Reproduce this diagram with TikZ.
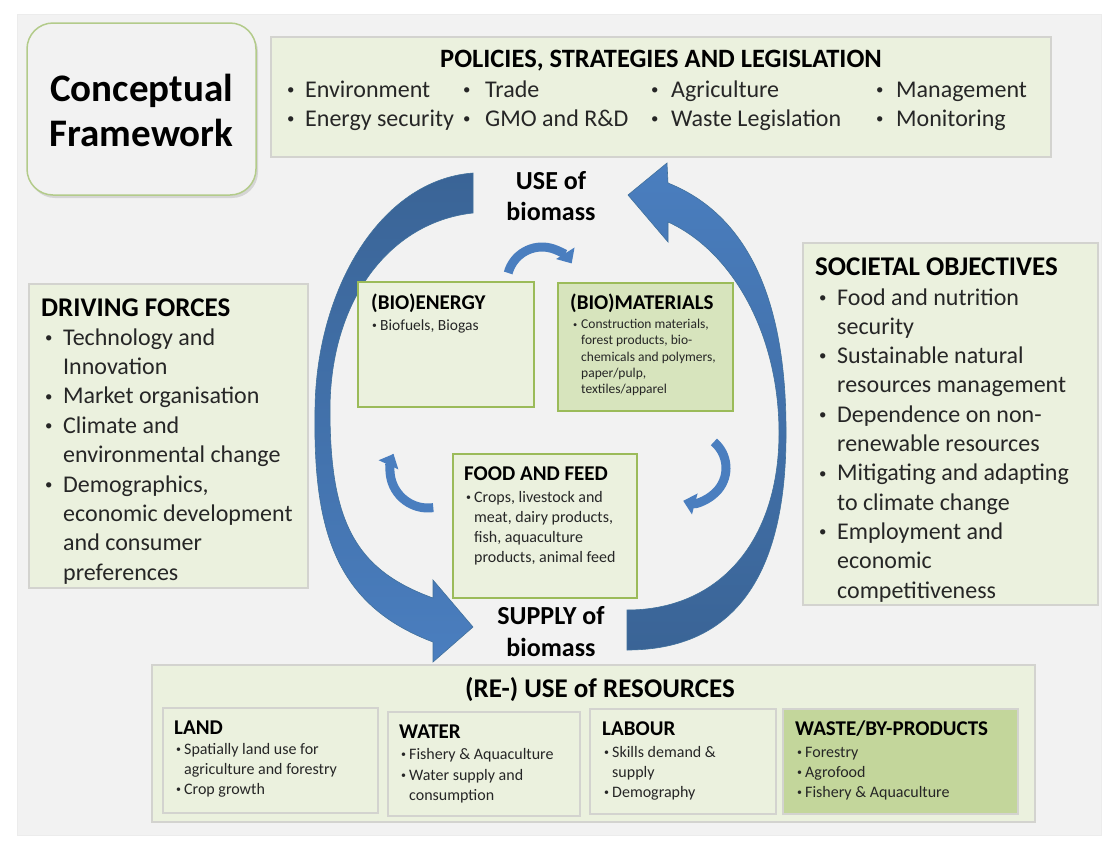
\documentclass[tikz,border=0pt]{standalone}
\usepackage{fontspec}
\usepackage{graphicx}
\setmainfont{Carlito}
\usetikzlibrary{shadows,arrows.meta}
\definecolor{bg}{HTML}{F2F2F2}
\definecolor{boxfill}{HTML}{EBF1DE}
\definecolor{boxdark}{HTML}{D7E4BD}
\definecolor{wastefill}{HTML}{C3D69B}
\definecolor{grnline}{HTML}{9BBB59}
\definecolor{conline}{HTML}{B3CB8A}
\definecolor{grayline}{HTML}{D3D3CF}
\definecolor{bluelight}{HTML}{4A7EBF}
\definecolor{bluedark}{HTML}{3A6496}
\definecolor{blueedge}{HTML}{41719C}
\definecolor{bodytext}{HTML}{262626}
\newcommand{\sbul}{\raisebox{0.11em}{\scalebox{0.62}{\textbullet}}}
\newcommand{\Bl}[5]{\node[lbl] (#1b) at (#2,#4) {\sbul}; \node[lbl] (#1) at (#3,#4) {#5};}
\newcommand{\Cl}[4]{\node[lbl] (#1) at (#2,#3) {#4};}
\newcommand{\setfs}[1]{\fontsize{#1}{#1}\selectfont}
\begin{document}
\begin{tikzpicture}[x=1pt,y=-1pt,
  lbl/.style={anchor=base west, inner sep=0pt, text=bodytext},
  ttl/.style={anchor=base west, inner sep=0pt, text=black, font=\bfseries\setfs{#1}},
  ttl/.default=21,
  ctr/.style={anchor=base, inner sep=0pt, text=black, font=\bfseries\setfs{#1}},
  ctr/.default=26,
  panel/.style={draw=grayline, line width=1.5pt, fill=boxfill, inner sep=0pt},
  greenbox/.style={draw=grnline, line width=2.5pt, fill=boxfill, inner sep=0pt},
  bigarrow/.style={draw=blueedge, line width=0.6pt},
  smallarrow/.style={draw=bluelight, line width=9pt, -{Triangle[width=21pt,length=12pt]}}
]
\useasboundingbox (0,0) rectangle (1104,852);
\fill[white] (0,0) rectangle (1104,852);
\draw[fill=bg, draw=gray!15, line width=1pt] (17,14) rectangle (1101,835);

% ---- big arrows ----
\shade[bigarrow, top color=bluedark, bottom color=bluelight]
  (473,173) .. controls (380,180) and (316,290) .. (315,410)
  .. controls (313,530) and (335,605) .. (433,642)
  -- (433,662) -- (473,627) -- (433,580) -- (433,598)
  .. controls (356,570) and (330,523) .. (330,410)
  .. controls (330,300) and (390,222) .. (473,213) -- cycle;
\shade[bigarrow, top color=bluelight, bottom color=bluedark]
  (627,650) .. controls (735,650) and (787,575) .. (786,430)
  .. controls (786,300) and (748,215) .. (668,183)
  -- (667,163) -- (628,195) -- (668,242) -- (668,222)
  .. controls (730,250) and (778,330) .. (779,430)
  .. controls (780,540) and (720,610) .. (627,610) -- cycle;

% ---- small circular arrows ----
\draw[smallarrow] (542,282) ++(195:35) arc[start angle=195, end angle=328, radius=35];
\draw[smallarrow] (428,470) ++(82:38) arc[start angle=82, end angle=205, radius=38];
\draw[smallarrow] (692,468) ++(-50:34) arc[start angle=-50, end angle=105, radius=34];

% ---- boxes ----
\node[draw=conline, line width=1.5pt, fill=bg, rounded corners=26pt, minimum width=229pt, minimum height=172pt,
      drop shadow={opacity=0.25, shadow xshift=2pt, shadow yshift=-3pt}] (concept) at (141.5,109) {};
\node[panel, minimum width=780pt, minimum height=120pt] (policies) at (661,97) {};
\node[panel, minimum width=279pt, minimum height=304pt] (driving) at (168.5,436) {};
\node[panel, minimum width=295pt, minimum height=362pt] (societal) at (950.5,424) {};
\node[greenbox, minimum width=176pt, minimum height=125pt] (bioenergy) at (446,344.5) {};
\node[greenbox, fill=boxdark, minimum width=175pt, minimum height=128pt] (biomat) at (645.5,347) {};
\node[greenbox, minimum width=184pt, minimum height=144pt] (food) at (545,526) {};
\node[panel, minimum width=883pt, minimum height=157pt] (reuse) at (593.5,743.5) {};
\node[panel, line width=2pt, minimum width=215pt, minimum height=105pt] (land) at (270.5,760.5) {};
\node[panel, line width=2pt, minimum width=192pt, minimum height=104pt] (water) at (484,764) {};
\node[panel, line width=2pt, minimum width=186pt, minimum height=105pt] (labour) at (683,761.5) {};
\node[panel, line width=2pt, fill=wastefill, minimum width=235pt, minimum height=105pt] (waste) at (900.5,761.5) {};

% ---- title ----
\node[ctr=39] (conc1) at (141.5,101) {Conceptual};
\node[ctr=39] (conc2) at (141.5,146) {Framework};

% ---- policies ----
\node[ctr=26.5] (poltitle) at (661,67) {POLICIES, STRATEGIES AND LEGISLATION};
\begin{scope}[every node/.append style={font=\setfs{24}}]
\Bl{p1}{287}{305}{97}{Environment}
\Bl{p5}{287}{305}{126}{Energy security}
\Bl{p2}{463}{485}{97}{Trade}
\Bl{p6}{463}{485}{126}{GMO and R\&D}
\Bl{p3}{651}{671}{97}{Agriculture}
\Bl{p7}{651}{671}{126}{Waste Legislation}
\Bl{p4}{876}{896}{97}{Management}
\Bl{p8}{876}{896}{126}{Monitoring}
\end{scope}

% ---- use / supply ----
\node[ctr=26] (use1) at (551,189) {USE of};
\node[ctr=26] (use2) at (551,220) {biomass};
\node[ctr=26] (sup1) at (551,624) {SUPPLY of};
\node[ctr=26] (sup2) at (551,656) {biomass};

% ---- driving forces ----
\node[ttl=27] (dftitle) at (41,316) {DRIVING FORCES};
\begin{scope}[every node/.append style={font=\setfs{24}}]
\Bl{d1}{45}{63}{345}{Technology and}
\Cl{d2}{63}{374.4}{Innovation}
\Bl{d3}{45}{63}{403.8}{Market organisation}
\Bl{d4}{45}{63}{433.2}{Climate and}
\Cl{d5}{63}{462.6}{environmental change}
\Bl{d6}{45}{63}{492}{Demographics,}
\Cl{d7}{63}{521.4}{economic development}
\Cl{d8}{63}{550.8}{and consumer}
\Cl{d9}{63}{580.2}{preferences}
\end{scope}

% ---- societal objectives ----
\node[ttl=27] (sotitle) at (815,275) {SOCIETAL OBJECTIVES};
\begin{scope}[every node/.append style={font=\setfs{24}}]
\Bl{s1}{819}{837}{305}{Food and nutrition}
\Cl{s2}{837}{334.3}{security}
\Bl{s3}{819}{837}{363.6}{Sustainable natural}
\Cl{s4}{837}{392.9}{resources management}
\Bl{s5}{819}{837}{422.2}{Dependence on non-}
\Cl{s6}{837}{451.5}{renewable resources}
\Bl{s7}{819}{837}{480.8}{Mitigating and adapting}
\Cl{s8}{837}{510.1}{to climate change}
\Bl{s9}{819}{837}{539.4}{Employment and}
\Cl{s10}{837}{568.7}{economic}
\Cl{s11}{837}{598}{competitiveness}
\end{scope}

% ---- bioenergy ----
\node[ttl=21] (betitle) at (371,309) {(BIO)ENERGY};
\begin{scope}[every node/.append style={font=\setfs{15.5}}]
\Bl{be1}{372}{380}{330}{Biofuels, Biogas}
\end{scope}

% ---- biomaterials ----
\node[ttl=21] (bmtitle) at (570,309) {(BIO)MATERIALS};
\begin{scope}[every node/.append style={font=\setfs{13.5}}]
\Bl{bm1}{573}{581}{328.5}{Construction materials,}
\Cl{bm2}{581}{344.8}{forest products, bio-}
\Cl{bm3}{581}{361.1}{chemicals and polymers,}
\Cl{bm4}{581}{377.4}{paper/pulp,}
\Cl{bm5}{581}{393.7}{textiles/apparel}
\end{scope}

% ---- food and feed ----
\node[ttl=21] (fftitle) at (464,480) {FOOD AND FEED};
\begin{scope}[every node/.append style={font=\setfs{16}}]
\Bl{f1}{466}{474}{502.5}{Crops, livestock and}
\Cl{f2}{474}{522.5}{meat, dairy products,}
\Cl{f3}{474}{542.5}{fish, aquaculture}
\Cl{f4}{474}{562.5}{products, animal feed}
\end{scope}

% ---- re-use of resources ----
\node[ctr=27] (retitle) at (600,697) {(RE-) USE of RESOURCES};
\node[ttl=21] (landt) at (174,734) {LAND};
\node[ttl=21] (watert) at (399,738) {WATER};
\node[ttl=21] (labourt) at (602,735) {LABOUR};
\node[ttl=21] (wastet) at (795,735) {WASTE/BY-PRODUCTS};
\begin{scope}[every node/.append style={font=\setfs{16}}]
\Bl{l1}{176}{184}{754.5}{Spatially land use for}
\Cl{l2}{184}{774.5}{agriculture and forestry}
\Bl{l3}{176}{184}{794.5}{Crop growth}
\Bl{w1}{401}{409}{759.5}{Fishery \& Aquaculture}
\Bl{w2}{401}{409}{780}{Water supply and}
\Cl{w3}{409}{800}{consumption}
\Bl{b1}{604}{612}{757.5}{Skills demand \&}
\Cl{b2}{612}{777.5}{supply}
\Bl{b3}{604}{612}{797.5}{Demography}
\Bl{x1}{797}{805}{757.5}{Forestry}
\Bl{x2}{797}{805}{777.5}{Agrofood}
\Bl{x3}{797}{805}{797.5}{Fishery \& Aquaculture}
\end{scope}
\end{tikzpicture}
\end{document}
